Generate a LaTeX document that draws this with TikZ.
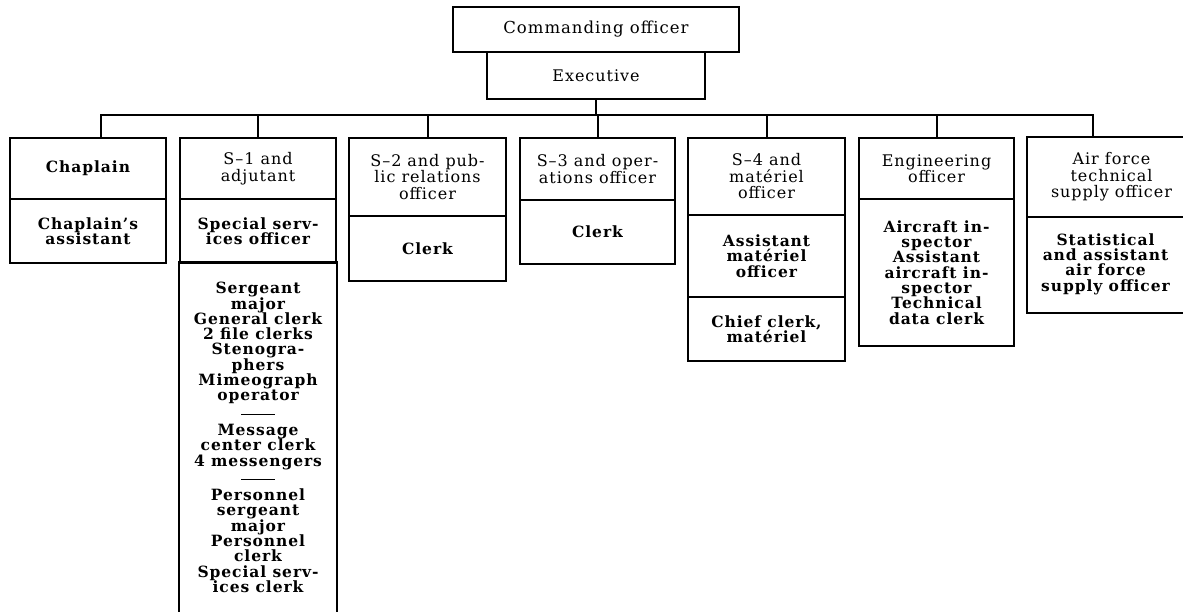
\documentclass[tikz,border=0pt]{standalone}
\usepackage{fontspec}
\setmainfont[LetterSpace=6]{DejaVu Serif}
\usetikzlibrary{positioning}

\tikzset{
  orgline/.style={line width=2pt},
  unitbox/.style={orgline, draw, inner sep=0pt, align=center,
    font=\fontsize{16}{16.5}\selectfont},
  staffbox/.style={unitbox, font=\fontsize{15.5}{15.3}\selectfont\bfseries},
  openbox/.style={staffbox, draw=none}
}

\begin{document}
\begin{tikzpicture}[x=1pt,y=-1pt]
      \useasboundingbox (0,0) rectangle (1183,612);

      % Define the bus coordinates
      \coordinate (busL) at (101,115);
      \coordinate (busR) at (1093,115);

      % Head of the unit
      \node[unitbox, minimum width=286pt, minimum height=45pt,
        font=\fontsize{16.5}{17}\selectfont] (co) at (596,29.5) {Commanding officer};
      \node[unitbox, minimum width=218pt, minimum height=47pt] (ex) at (596,75.5) {Executive};

      % Chaplain
      \node[staffbox, minimum width=156pt, minimum height=61pt] (chap) at (88,168.5) {Chaplain};
      \node[staffbox, minimum width=156pt, minimum height=64pt] (chapa) at (88,231) {Chaplain’s\\assistant};

      % S-1
      \node[unitbox, minimum width=156pt, minimum height=61pt] (sone) at (258,168.5) {S–1 and\\adjutant};
      \node[staffbox, minimum width=156pt, minimum height=64pt] (soneb) at (258,231) {Special serv-\\ices officer};
      \node[openbox, minimum width=156pt, minimum height=349pt] (sonec) at (258,437.5)
        {Sergeant\\major\\General clerk\\2 file clerks\\Stenogra-\\phers\\Mimeograph\\operator\\[2pt]
         \rule[3pt]{34pt}{1.5pt}\\[2pt]Message\\center clerk\\4 messengers\\[2pt]
         \rule[3pt]{34pt}{1.5pt}\\[2pt]Personnel\\sergeant\\major\\Personnel\\clerk\\Special serv-\\ices clerk};
      \draw[orgline] (sonec.south west) -- (sonec.north west) -- (sonec.north east) -- (sonec.south east);

      % S-2
      \node[unitbox, minimum width=157pt, minimum height=78pt] (stwo) at (427.5,177) {S–2 and pub-\\lic relations\\officer};
      \node[staffbox, minimum width=157pt, minimum height=65pt] (stwob) at (427.5,248.5) {Clerk};

      % S-3
      \node[unitbox, minimum width=155pt, minimum height=62pt] (sthree) at (597.5,169) {S–3 and oper-\\ations officer};
      \node[staffbox, minimum width=155pt, minimum height=64pt] (sthreeb) at (597.5,232) {Clerk};

      % S-4
      \node[unitbox, minimum width=157pt, minimum height=77pt] (sfour) at (766.5,176.5) {S–4 and\\matériel\\officer};
      \node[staffbox, minimum width=157pt, minimum height=82pt] (sfourb) at (766.5,256) {Assistant\\matériel\\officer};
      \node[staffbox, minimum width=157pt, minimum height=64pt] (sfourc) at (766.5,329) {Chief clerk,\\matériel};

      % Engineering
      \node[unitbox, minimum width=155pt, minimum height=61pt] (eng) at (936.5,168.5) {Engineering\\officer};
      \node[staffbox, minimum width=155pt, minimum height=147pt] (engb) at (936.5,272.5)
        {Aircraft in-\\spector\\Assistant\\aircraft in-\\spector\\Technical\\data clerk};

      % Air force supply, open at the right edge
      \node[openbox, font=\fontsize{16}{16.5}\selectfont, minimum width=155pt, minimum height=78pt] (air) at (1105.5,177)
        {\hspace*{12pt}Air force\\\hspace*{12pt}technical\\\hspace*{12pt}supply officer};
      \node[openbox, minimum width=155pt, minimum height=96pt] (airb) at (1105.5,264)
        {Statistical\\and assistant\\air force\\supply officer};
      \draw[orgline] (air.north east) -- (air.north west) -- (air.south west) -- (air.south east);
      \draw[orgline] (airb.south east) -- (airb.south west) -- (airb.north west);

      % Connect the boxes
      \draw[orgline] (ex.south) -- (ex.south |- busL);
      \draw[orgline] (busL |- chap.north) -- (busL) -- (busR) -- (busR |- air.north);
      \foreach \n in {sone,stwo,sthree,sfour,eng}
        \draw[orgline] (\n.north) -- (\n.north |- busL);
    \end{tikzpicture}
\end{document}
